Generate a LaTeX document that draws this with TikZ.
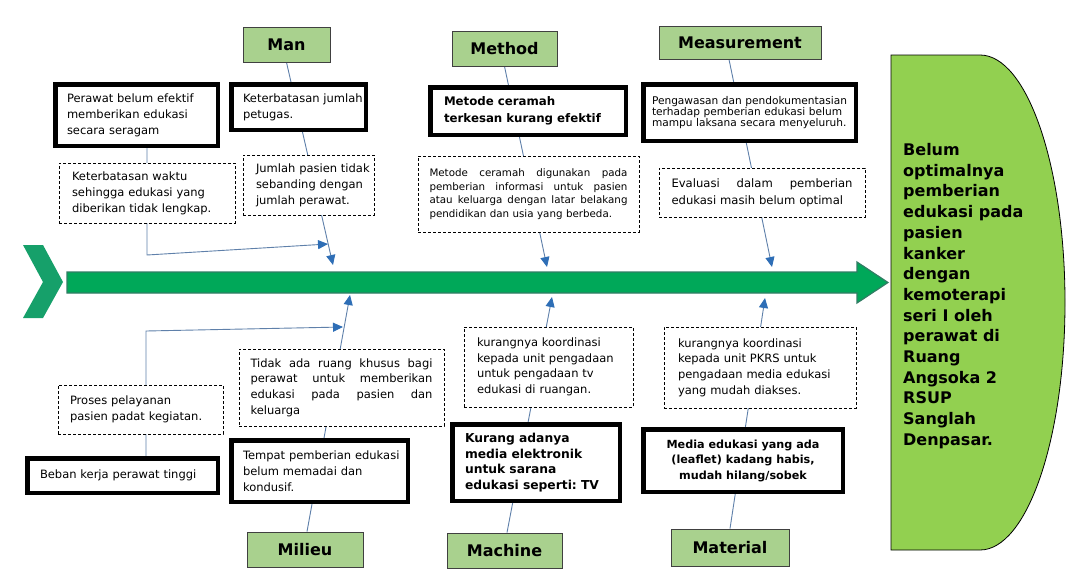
\documentclass[tikz,border=0pt]{standalone}
\usepackage{fontspec}
\setmainfont{DejaVu Sans}
\usetikzlibrary{arrows.meta,backgrounds}
\definecolor{catgreen}{RGB}{169,209,142}
\definecolor{resgreen}{RGB}{146,208,80}
\definecolor{spinegreen}{RGB}{0,168,89}
\definecolor{chevgreen}{RGB}{22,160,106}
\definecolor{spineedge}{RGB}{49,125,100}
\definecolor{linkblue}{RGB}{95,128,170}
\definecolor{tipblue}{RGB}{46,110,182}
\newcommand\Lf[1]{\mbox{#1}}
\newcommand\Js[2]{\leavevmode\hbox to #1{\spaceskip=0.3em plus 1fill\relax #2}}
\frenchspacing
\begin{document}
\begin{tikzpicture}[x=1pt,y=-1pt,
 catbox/.style={draw=black!75, line width=0.8pt, fill=catgreen, font=\fontsize{16}{19}\selectfont\bfseries, inner sep=0pt},
 thickbox/.style={draw=black, line width=4.5pt, fill=white, inner sep=0pt, align=left},
 dashbox/.style={draw=black, line width=0.8pt, dash pattern=on 3pt off 2pt, fill=white, inner sep=0pt, align=left},
 txt/.style={font=\fontsize{11.5}{16}\selectfont},
 link/.style={draw=linkblue, line width=0.9pt},
 linkarrow/.style={link, -{Triangle[length=10pt,width=9pt,color=tipblue]}},
]
\useasboundingbox (0,0) rectangle (1087,587);
\begin{scope}[on background layer]
\fill[white] (0,0) rectangle (1087,587);
\end{scope}

% main spine arrow and tail chevron
\draw[fill=spinegreen, draw=spineedge, line width=1.2pt]
  (67,272) -- (857,272) -- (857,262) -- (888,282.5) -- (857,303) -- (857,293) -- (67,293) -- cycle;
\fill[chevgreen] (23,245) -- (43,245) -- (63,282) -- (43,318) -- (23,318) -- (43,282) -- cycle;

% problem (head) shape
\draw[fill=resgreen, draw=black, line width=0.8pt]
  (891,55) -- (980,55) .. controls (1026.9,55) and (1065,165.8) .. (1065,302.5)
  .. controls (1065,439.2) and (1026.9,550) .. (980,550) -- (891,550) -- cycle;
\node[font=\fontsize{16}{20.7}\selectfont\bfseries, align=left, anchor=west, inner sep=0pt] (res) at (903,296)
 {Belum\\optimalnya\\pemberian\\edukasi pada\\pasien\\kanker\\dengan\\kemoterapi\\seri I oleh\\perawat di\\Ruang\\Angsoka 2\\RSUP\\Sanglah\\Denpasar.};

% category boxes
\node[catbox, minimum width=87pt, minimum height=35pt] (man) at (286.5,44.5) {Man};
\node[catbox, minimum width=105pt, minimum height=35pt] (method) at (504.5,48.5) {Method};
\node[catbox, minimum width=162pt, minimum height=33pt] (meas) at (740,42.5) {Measurement};
\node[catbox, minimum width=116pt, minimum height=35pt] (milieu) at (305,549.5) {Milieu};
\node[catbox, minimum width=115pt, minimum height=35pt] (machine) at (504.5,550.5) {Machine};
\node[catbox, minimum width=118pt, minimum height=37pt] (material) at (730,547.5) {Material};

% Man
\node[thickbox, txt, minimum width=162.5pt, minimum height=61.5pt, text width=139pt] (t1) at (136.5,115)
 {\Lf{Perawat belum efektif}\\\Lf{memberikan edukasi}\\\Lf{secara seragam}};
\node[thickbox, txt, minimum width=134.5pt, minimum height=45.5pt, text width=111pt] (t2) at (298.5,107)
 {\Lf{Keterbatasan jumlah}\\\Lf{petugas.}};
\node[dashbox, txt, minimum width=176pt, minimum height=60pt, text width=150pt] (d1) at (147,193)
 {\Lf{Keterbatasan waktu}\\\Lf{sehingga edukasi yang}\\\Lf{diberikan tidak lengkap.}};
\node[dashbox, txt, minimum width=131pt, minimum height=60pt, text width=105pt] (d2) at (308.5,185)
 {\Lf{Jumlah pasien tidak}\\\Lf{sebanding dengan}\\\Lf{jumlah perawat.}};

% Method
\node[thickbox, font=\fontsize{11.8}{16.7}\selectfont\bfseries, minimum width=195.5pt, minimum height=47.5pt, text width=168pt] (t3) at (528,111)
 {\Lf{Metode ceramah}\\\Lf{terkesan kurang efektif}};
\node[dashbox, font=\fontsize{10.3}{13.5}\selectfont, minimum width=221pt, minimum height=76pt, text width=198pt] (d3) at (528.5,194)
 {\Js{198pt}{Metode ceramah digunakan pada}\\\Js{198pt}{pemberian informasi untuk pasien}\\\Js{198pt}{atau keluarga dengan latar belakang}\\\Lf{pendidikan dan usia yang berbeda.}};

% Measurement
\node[thickbox, font=\fontsize{10.6}{11.2}\selectfont, minimum width=212.5pt, minimum height=56.5pt, text width=195pt] (t4) at (749.5,112.5)
 {\Lf{Pengawasan dan pendokumentasian}\\\Lf{terhadap pemberian edukasi belum}\\\Lf{mampu laksana secara menyeluruh.}};
\node[dashbox, font=\fontsize{11.6}{16.7}\selectfont, minimum width=206pt, minimum height=49pt, text width=181pt] (d4) at (762,192.5)
 {\Js{181pt}{Evaluasi dalam pemberian}\\\Lf{edukasi masih belum optimal}};

% Milieu
\node[dashbox, txt, minimum width=165pt, minimum height=49pt, text width=141pt] (d5) at (140.5,409.5)
 {\Lf{Proses pelayanan}\\\Lf{pasien padat kegiatan.}};
\node[thickbox, txt, minimum width=190.5pt, minimum height=34.5pt, text width=165pt] (t5) at (122.5,475.5)
 {\Lf{Beban kerja perawat tinggi}};
\node[dashbox, font=\fontsize{11.5}{15.6}\selectfont, minimum width=205pt, minimum height=77pt, text width=182pt] (d6) at (341.5,387.5)
 {\Js{182pt}{Tidak ada ruang khusus bagi}\\\Js{182pt}{perawat untuk memberikan}\\\Js{182pt}{edukasi pada pasien dan}\\\Lf{keluarga}};
\node[thickbox, txt, minimum width=176.5pt, minimum height=61.5pt, text width=153pt] (t6) at (319.5,471)
 {\Lf{Tempat pemberian edukasi}\\\Lf{belum memadai dan}\\\Lf{kondusif.}};

% Machine
\node[dashbox, font=\fontsize{11.5}{15.6}\selectfont, minimum width=169pt, minimum height=80pt, text width=143pt] (d7) at (548.5,367)
 {\Lf{kurangnya koordinasi}\\\Lf{kepada unit pengadaan}\\\Lf{untuk pengadaan tv}\\\Lf{edukasi di ruangan.}};
\node[thickbox, font=\fontsize{12.3}{15.6}\selectfont\bfseries, minimum width=167.5pt, minimum height=76.5pt, text width=142pt] (t7) at (536,462.5)
 {\Lf{Kurang adanya}\\\Lf{media elektronik}\\\Lf{untuk sarana}\\\Lf{edukasi seperti: TV}};

% Material
\node[dashbox, font=\fontsize{11.5}{15.6}\selectfont, minimum width=192pt, minimum height=81pt, text width=164pt] (d8) at (760,367.5)
 {\Lf{kurangnya koordinasi}\\\Lf{kepada unit PKRS untuk}\\\Lf{pengadaan media edukasi}\\\Lf{yang mudah diakses.}};
\node[thickbox, align=center, font=\fontsize{11.2}{15.5}\selectfont\bfseries, minimum width=199.5pt, minimum height=62.5pt] (t8) at (743,460.5)
 {Media edukasi yang ada\\(leaflet) kadang habis,\\mudah hilang/sobek};

% arrow end points on the spine
\coordinate (manTip) at (333,265);
\coordinate (methodTip) at (547,267);
\coordinate (measTip) at (772,267);
\coordinate (milieuTip) at (350,295);
\coordinate (machineTip) at (552,297);
\coordinate (materialTip) at (765,298);
\coordinate (manSide) at (328,244);
\coordinate (milieuSide) at (343,327);

\begin{scope}[on background layer]
\draw[linkarrow] (man.south) -- (manTip);
\draw[linkarrow] (method.south) -- (methodTip);
\draw[linkarrow] ([xshift=-11pt]meas.south) -- (measTip);
\draw[linkarrow] ([xshift=2pt]milieu.north) -- (milieuTip);
\draw[linkarrow] ([xshift=2.5pt]machine.north) -- (machineTip);
\draw[linkarrow] (material.north) -- (materialTip);
\draw[linkarrow] ([xshift=10.5pt]t1.south) -- ++(0,107) -- (manSide);
\draw[linkarrow] ([xshift=23.5pt]t5.north) -- ++(0,-125) -- (milieuSide);
\end{scope}
\end{tikzpicture}
\end{document}
